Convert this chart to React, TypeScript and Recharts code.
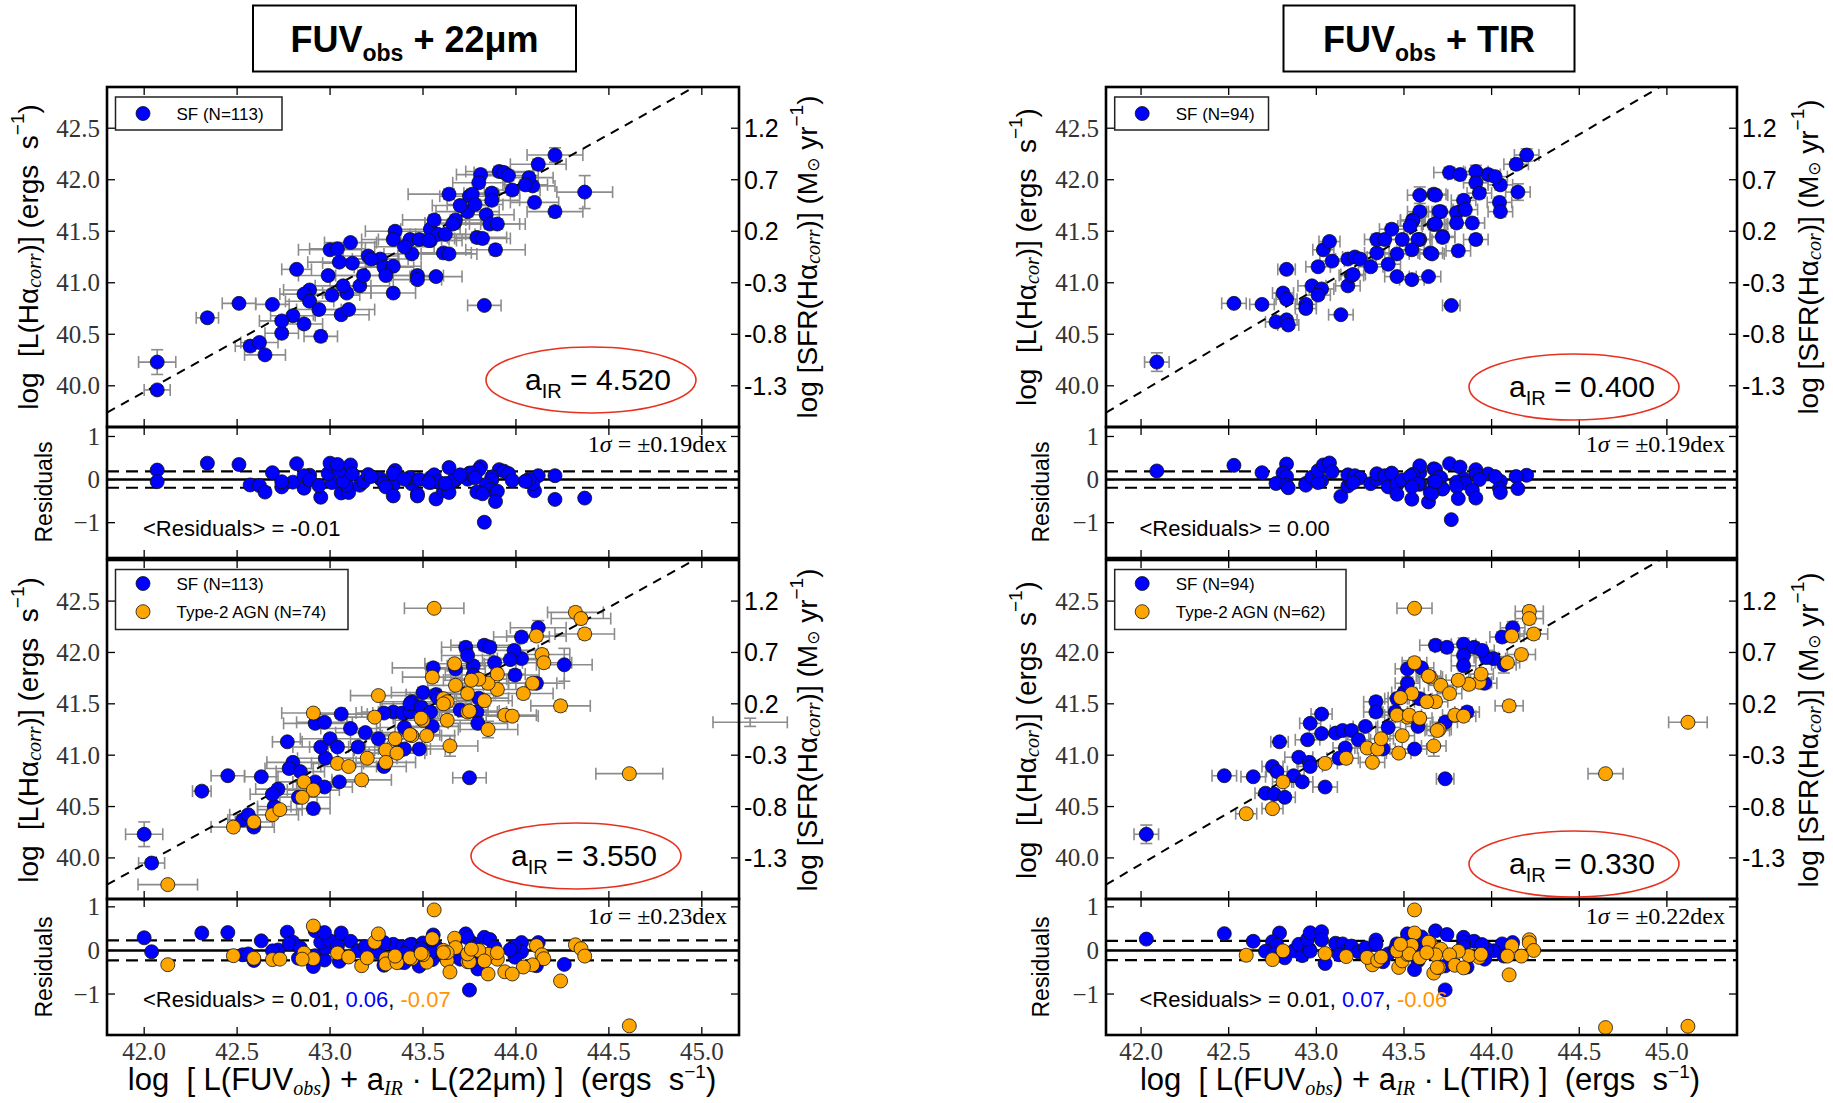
import React from 'react';
import { ScatterChart, Scatter, XAxis, YAxis, ErrorBar, ReferenceLine } from 'recharts';

type P = [number, number, number, number];

// fit line y = x + FIT_OFFSET ; SFR = log L - SFR_OFFSET
const FIT_OFFSET = -2.06;
const SFR_OFFSET = 41.3;
const X_TICKS = [42.0, 42.5, 43.0, 43.5, 44.0, 44.5, 45.0];
const Y_TICKS = [40.0, 40.5, 41.0, 41.5, 42.0, 42.5];
const RES_TICKS = [-1, 0, 1];
const SIGMAS = { tl: 0.19, tr: 0.19, bl: 0.23, br: 0.22 };

// FUV + 22um, a_IR = 4.520 : SF galaxies [x, y, xErr, yErr]
const SF_22_TOP: P[] = [
  [42.07, 40.23, 0.10, 0.12], [42.07, 39.96, 0.07, 0.04], [42.34, 40.66, 0.06, 0.04], [42.51, 40.80, 0.09, 0.03],
  [42.69, 40.79, 0.09, 0.03], [42.82, 41.13, 0.08, 0.03], [42.57, 40.385, 0.08, 0.05], [42.62, 40.42, 0.10, 0.04],
  [42.65, 40.30, 0.11, 0.04], [42.74, 40.51, 0.09, 0.04], [42.95, 40.48, 0.09, 0.05], [42.86, 40.60, 0.10, 0.04],
  [42.80, 40.68, 0.12, 0.04], [42.74, 40.63, 0.12, 0.04], [42.89, 40.93, 0.14, 0.04], [42.86, 40.89, 0.13, 0.04],
  [42.89, 40.82, 0.13, 0.04], [42.94, 40.74, 0.12, 0.04], [43.06, 40.69, 0.15, 0.04], [43.10, 40.74, 0.14, 0.04],
  [43.01, 40.88, 0.15, 0.04], [43.09, 40.90, 0.13, 0.04], [42.99, 41.07, 0.16, 0.04], [43.07, 40.97, 0.15, 0.04],
  [43.16, 40.97, 0.16, 0.04], [43.05, 41.20, 0.17, 0.04], [43.00, 41.32, 0.17, 0.04], [43.04, 41.33, 0.15, 0.04],
  [43.11, 41.39, 0.14, 0.04], [43.12, 41.19, 0.16, 0.04], [43.18, 41.07, 0.15, 0.04], [43.205, 41.26, 0.16, 0.04],
  [43.27, 41.23, 0.15, 0.04], [43.29, 41.15, 0.16, 0.04], [43.34, 41.16, 0.15, 0.04], [43.30, 41.07, 0.14, 0.04],
  [43.34, 40.90, 0.12, 0.04], [43.35, 41.50, 0.16, 0.04], [43.34, 41.42, 0.17, 0.04], [43.44, 41.28, 0.15, 0.04],
  [43.47, 41.07, 0.14, 0.04], [43.47, 41.03, 0.13, 0.04], [43.57, 41.06, 0.14, 0.04], [43.43, 41.42, 0.17, 0.04],
  [43.48, 41.42, 0.16, 0.04], [43.54, 41.41, 0.17, 0.04], [43.54, 41.52, 0.16, 0.05], [43.56, 41.61, 0.17, 0.05],
  [43.61, 41.29, 0.15, 0.04], [43.64, 41.28, 0.15, 0.04], [43.64, 41.86, 0.22, 0.05], [43.67, 41.58, 0.16, 0.05],
  [43.74, 41.69, 0.17, 0.05], [43.75, 41.84, 0.16, 0.05], [44.21, 42.24, 0.15, 0.07], [44.12, 42.15, 0.15, 0.05],
  [44.37, 41.88, 0.15, 0.16], [44.10, 41.78, 0.13, 0.05], [44.21, 41.69, 0.15, 0.05], [44.09, 41.94, 0.12, 0.05],
  [44.07, 42.02, 0.13, 0.05], [44.05, 41.95, 0.12, 0.05], [43.91, 42.08, 0.18, 0.05], [43.935, 42.07, 0.16, 0.05],
  [43.96, 42.04, 0.16, 0.05], [43.81, 42.05, 0.13, 0.05], [43.80, 41.97, 0.14, 0.05], [43.765, 41.86, 0.14, 0.05],
  [43.87, 41.87, 0.15, 0.05], [43.87, 41.80, 0.15, 0.05], [43.98, 41.90, 0.15, 0.05], [43.78, 41.76, 0.15, 0.05],
  [43.84, 41.66, 0.15, 0.05], [43.86, 41.57, 0.16, 0.05], [43.90, 41.57, 0.15, 0.05], [43.675, 41.61, 0.14, 0.05],
  [43.66, 41.57, 0.15, 0.05], [43.58, 41.47, 0.15, 0.05], [43.53, 41.41, 0.15, 0.05], [43.79, 41.44, 0.16, 0.05],
  [43.82, 41.43, 0.15, 0.05], [43.89, 41.32, 0.16, 0.05], [43.83, 40.78, 0.09, 0.03], [43.22, 41.23, 0.15, 0.04],
  [43.40, 41.35, 0.16, 0.04], [43.62, 41.47, 0.16, 0.05], [43.70, 41.75, 0.15, 0.05],
];

// FUV + TIR, a_IR = 0.400 : SF galaxies
const SF_TIR_TOP: P[] = [
  [42.09, 40.23, 0.07, 0.09], [42.53, 40.80, 0.07, 0.03], [42.69, 40.79, 0.07, 0.03], [42.83, 41.13, 0.05, 0.04],
  [42.81, 40.90, 0.06, 0.04], [42.83, 40.84, 0.06, 0.04], [42.77, 40.62, 0.06, 0.04], [42.83, 40.64, 0.06, 0.04],
  [42.84, 40.59, 0.06, 0.04], [42.94, 40.79, 0.06, 0.04], [42.94, 40.75, 0.06, 0.04], [42.975, 40.97, 0.08, 0.04],
  [43.03, 40.94, 0.07, 0.04], [43.01, 40.88, 0.07, 0.04], [43.01, 41.155, 0.07, 0.04], [43.04, 41.32, 0.06, 0.04],
  [43.075, 41.40, 0.06, 0.04], [43.09, 41.21, 0.07, 0.04], [43.14, 40.69, 0.07, 0.03], [43.18, 40.97, 0.07, 0.04],
  [43.20, 41.07, 0.07, 0.04], [43.18, 41.23, 0.07, 0.04], [43.22, 41.25, 0.07, 0.04], [43.25, 41.23, 0.07, 0.04],
  [43.31, 41.155, 0.07, 0.04], [43.345, 41.29, 0.07, 0.04], [43.345, 41.42, 0.07, 0.05], [43.39, 41.42, 0.07, 0.05],
  [43.43, 41.52, 0.07, 0.05], [43.41, 41.18, 0.07, 0.04], [43.46, 41.28, 0.07, 0.04], [43.46, 41.06, 0.07, 0.04],
  [43.49, 41.42, 0.07, 0.05], [43.545, 41.03, 0.07, 0.04], [43.55, 41.61, 0.07, 0.05], [43.59, 41.69, 0.07, 0.05],
  [43.59, 41.85, 0.07, 0.08], [43.67, 41.86, 0.07, 0.05], [43.64, 41.06, 0.07, 0.04], [43.59, 41.42, 0.07, 0.05],
  [43.65, 41.29, 0.07, 0.04], [43.67, 41.565, 0.07, 0.05], [43.71, 41.69, 0.07, 0.05], [43.72, 41.45, 0.07, 0.05],
  [43.77, 40.78, 0.05, 0.03], [44.20, 42.24, 0.07, 0.06], [44.14, 42.15, 0.07, 0.05], [44.15, 41.88, 0.07, 0.08],
  [44.05, 41.95, 0.07, 0.05], [44.045, 41.78, 0.07, 0.05], [44.05, 41.69, 0.07, 0.05], [43.98, 42.05, 0.07, 0.05],
  [44.02, 42.03, 0.07, 0.05], [43.91, 42.08, 0.07, 0.06], [43.91, 41.97, 0.07, 0.05], [43.93, 41.87, 0.07, 0.05],
  [43.76, 42.07, 0.09, 0.05], [43.82, 42.05, 0.07, 0.05], [43.68, 41.85, 0.07, 0.05], [43.70, 41.69, 0.07, 0.05],
  [43.84, 41.80, 0.07, 0.05], [43.80, 41.68, 0.07, 0.05], [43.85, 41.71, 0.07, 0.05], [43.89, 41.58, 0.07, 0.05],
  [43.80, 41.58, 0.07, 0.05], [43.91, 41.42, 0.07, 0.05], [43.81, 41.31, 0.07, 0.05], [43.72, 41.44, 0.07, 0.05],
  [43.66, 41.28, 0.07, 0.04], [43.68, 41.57, 0.07, 0.05], [43.55, 41.60, 0.07, 0.05], [43.535, 41.55, 0.07, 0.05],
  [43.58, 41.42, 0.07, 0.05], [43.545, 41.32, 0.07, 0.05], [43.21, 41.08, 0.07, 0.04],
];

// FUV + 22um, a_IR = 3.550 : SF galaxies
const SF_22_BOT: P[] = [
  [42.00, 40.23, 0.10, 0.12], [42.04, 39.95, 0.07, 0.04], [42.31, 40.65, 0.05, 0.04], [42.45, 40.80, 0.09, 0.03],
  [42.63, 40.79, 0.09, 0.03], [42.77, 41.13, 0.08, 0.03], [42.53, 40.37, 0.08, 0.05], [42.56, 40.42, 0.10, 0.04],
  [42.59, 40.30, 0.11, 0.04], [42.70, 40.50, 0.09, 0.04], [42.91, 40.48, 0.09, 0.05], [42.83, 40.59, 0.10, 0.04],
  [42.72, 40.67, 0.12, 0.04], [42.69, 40.62, 0.12, 0.04], [42.80, 40.93, 0.14, 0.04], [42.78, 40.87, 0.13, 0.04],
  [42.84, 40.84, 0.13, 0.04], [42.92, 40.74, 0.12, 0.04], [42.97, 40.69, 0.15, 0.04], [43.05, 40.74, 0.14, 0.04],
  [42.975, 40.97, 0.15, 0.04], [42.95, 41.08, 0.15, 0.04], [43.00, 41.16, 0.16, 0.04], [42.92, 41.31, 0.17, 0.04],
  [42.97, 41.32, 0.15, 0.04], [43.06, 41.40, 0.14, 0.04], [43.11, 41.26, 0.16, 0.04], [43.04, 41.08, 0.15, 0.04],
  [43.15, 41.08, 0.16, 0.04], [43.19, 41.22, 0.16, 0.04], [43.26, 41.16, 0.15, 0.04], [43.29, 40.89, 0.12, 0.04],
  [43.38, 41.05, 0.14, 0.04], [43.34, 41.42, 0.17, 0.04], [43.39, 41.41, 0.16, 0.04], [43.43, 41.42, 0.17, 0.04],
  [43.44, 41.52, 0.16, 0.05], [43.50, 41.61, 0.17, 0.05], [43.48, 41.06, 0.14, 0.04], [43.55, 41.28, 0.15, 0.04],
  [43.555, 41.85, 0.22, 0.05], [43.675, 41.84, 0.16, 0.05], [43.57, 41.59, 0.16, 0.05], [43.75, 40.78, 0.09, 0.03],
  [43.29, 41.41, 0.15, 0.04], [44.12, 42.24, 0.15, 0.07], [44.03, 42.15, 0.15, 0.05], [44.26, 41.88, 0.15, 0.16],
  [44.03, 41.94, 0.13, 0.05], [43.995, 41.78, 0.13, 0.05], [43.99, 42.02, 0.13, 0.05], [44.11, 41.70, 0.15, 0.05],
  [43.83, 42.07, 0.18, 0.05], [43.86, 42.05, 0.16, 0.05], [43.73, 42.05, 0.13, 0.05], [43.77, 41.87, 0.14, 0.05],
  [43.885, 41.90, 0.15, 0.05], [43.97, 41.93, 0.15, 0.05], [43.74, 41.97, 0.14, 0.05], [43.77, 41.78, 0.15, 0.05],
  [43.58, 41.56, 0.15, 0.05], [43.43, 41.50, 0.16, 0.05], [43.49, 41.47, 0.15, 0.05], [43.54, 41.42, 0.15, 0.05],
  [43.80, 41.555, 0.16, 0.05], [43.79, 41.42, 0.16, 0.05], [43.40, 41.27, 0.15, 0.04], [43.70, 41.44, 0.15, 0.05],
  [43.795, 41.31, 0.16, 0.05], [43.40, 41.06, 0.14, 0.04],
];

// FUV + 22um, a_IR = 3.550 : Type-2 AGN
const AGN_22_BOT: P[] = [
  [42.127, 39.74, 0.16, 0.03], [42.48, 40.30, 0.12, 0.04], [42.59, 40.35, 0.10, 0.04], [42.69, 40.42, 0.14, 0.04],
  [42.73, 40.47, 0.12, 0.04], [42.91, 41.41, 0.17, 0.04], [42.86, 40.74, 0.15, 0.04], [42.91, 40.66, 0.14, 0.04],
  [42.85, 40.59, 0.15, 0.04], [43.04, 40.92, 0.14, 0.04], [43.10, 40.89, 0.15, 0.04], [43.17, 40.76, 0.16, 0.04],
  [43.20, 40.97, 0.16, 0.04], [43.30, 41.05, 0.17, 0.04], [43.30, 40.93, 0.16, 0.04], [43.36, 41.02, 0.15, 0.04],
  [43.35, 41.16, 0.16, 0.04], [43.24, 41.37, 0.15, 0.04], [43.26, 41.58, 0.15, 0.04], [43.44, 41.19, 0.16, 0.04],
  [43.52, 41.19, 0.15, 0.04], [43.50, 41.34, 0.15, 0.04], [43.63, 41.34, 0.16, 0.05], [43.645, 41.09, 0.15, 0.10],
  [43.55, 41.76, 0.16, 0.05], [43.67, 41.89, 0.16, 0.05], [43.675, 41.68, 0.15, 0.05], [43.74, 41.42, 0.16, 0.05],
  [43.61, 41.55, 0.15, 0.05], [43.56, 42.43, 0.16, 0.03], [44.32, 42.39, 0.15, 0.05], [44.35, 42.33, 0.16, 0.05],
  [44.37, 42.18, 0.16, 0.05], [44.11, 42.16, 0.16, 0.05], [44.14, 41.98, 0.15, 0.05], [44.15, 41.90, 0.15, 0.05],
  [44.09, 41.70, 0.13, 0.05], [44.04, 41.60, 0.16, 0.05], [44.24, 41.48, 0.16, 0.05], [43.94, 41.39, 0.17, 0.05],
  [43.98, 41.38, 0.14, 0.05], [43.85, 41.25, 0.16, 0.08], [43.75, 41.43, 0.16, 0.05], [43.90, 41.64, 0.15, 0.05],
  [43.85, 41.70, 0.15, 0.05], [43.90, 41.79, 0.15, 0.05], [43.80, 41.74, 0.15, 0.05], [43.74, 41.60, 0.15, 0.05],
  [43.83, 41.53, 0.15, 0.05], [44.61, 40.82, 0.18, 0.03], [43.43, 41.20, 0.16, 0.04], [43.63, 41.52, 0.15, 0.05],
  [43.49, 41.36, 0.15, 0.05], [43.61, 41.50, 0.15, 0.05], [43.76, 41.73, 0.15, 0.05], [45.26, 41.32, 0.20, 0.04],
];

// FUV + TIR, a_IR = 0.330 : SF galaxies
const SF_TIR_BOT: P[] = [
  [42.03, 40.23, 0.07, 0.09], [42.475, 40.80, 0.07, 0.03], [42.64, 40.79, 0.07, 0.03], [42.79, 41.13, 0.05, 0.04],
  [42.75, 40.89, 0.06, 0.04], [42.775, 40.84, 0.06, 0.04], [42.71, 40.63, 0.06, 0.04], [42.76, 40.62, 0.06, 0.04],
  [42.82, 40.59, 0.06, 0.04], [42.87, 40.80, 0.06, 0.04], [42.92, 40.74, 0.06, 0.04], [42.90, 40.98, 0.08, 0.04],
  [42.96, 40.93, 0.07, 0.04], [42.965, 40.89, 0.07, 0.04], [42.95, 41.15, 0.07, 0.04], [42.965, 41.31, 0.06, 0.04],
  [43.03, 41.40, 0.06, 0.04], [43.03, 41.21, 0.07, 0.04], [43.05, 40.69, 0.07, 0.03], [43.11, 41.215, 0.07, 0.04],
  [43.15, 41.24, 0.07, 0.04], [43.165, 41.07, 0.07, 0.04], [43.13, 40.97, 0.07, 0.04], [43.20, 41.24, 0.07, 0.04],
  [43.24, 41.15, 0.07, 0.04], [43.28, 41.28, 0.07, 0.04], [43.34, 41.52, 0.07, 0.05], [43.34, 41.42, 0.07, 0.05],
  [43.38, 41.06, 0.07, 0.04], [43.41, 41.27, 0.07, 0.04], [43.46, 41.55, 0.07, 0.05], [43.50, 41.61, 0.07, 0.05],
  [43.45, 41.42, 0.07, 0.05], [43.52, 41.84, 0.07, 0.08], [43.60, 41.85, 0.07, 0.05], [43.58, 41.28, 0.07, 0.04],
  [43.56, 41.06, 0.07, 0.04], [43.735, 40.77, 0.05, 0.03], [43.735, 41.32, 0.07, 0.05], [44.12, 42.24, 0.07, 0.06],
  [44.06, 42.15, 0.07, 0.05], [44.07, 41.88, 0.07, 0.08], [44.01, 41.94, 0.07, 0.05], [43.97, 41.95, 0.07, 0.05],
  [43.96, 41.70, 0.07, 0.05], [43.68, 42.07, 0.09, 0.05], [43.745, 42.05, 0.07, 0.05], [43.84, 42.08, 0.07, 0.06],
  [43.90, 42.05, 0.07, 0.05], [43.945, 42.02, 0.07, 0.05], [43.84, 41.97, 0.07, 0.05], [43.84, 41.87, 0.07, 0.05],
  [43.52, 41.70, 0.07, 0.05], [43.59, 41.55, 0.07, 0.05], [43.86, 41.42, 0.07, 0.05],
];

// FUV + TIR, a_IR = 0.330 : Type-2 AGN
const AGN_TIR_BOT: P[] = [
  [42.60, 40.43, 0.06, 0.04], [42.75, 40.48, 0.06, 0.04], [42.81, 40.74, 0.06, 0.04], [43.05, 40.92, 0.07, 0.04],
  [43.17, 40.97, 0.07, 0.04], [43.32, 40.93, 0.07, 0.04], [43.47, 41.02, 0.07, 0.04], [43.29, 41.07, 0.07, 0.04],
  [43.35, 41.06, 0.07, 0.04], [43.49, 41.19, 0.07, 0.04], [43.67, 41.09, 0.07, 0.10], [43.70, 41.25, 0.07, 0.04],
  [43.56, 41.90, 0.07, 0.05], [43.65, 41.76, 0.07, 0.05], [43.71, 41.68, 0.07, 0.05], [43.68, 41.52, 0.07, 0.05],
  [43.52, 41.37, 0.07, 0.05], [43.545, 41.60, 0.07, 0.05], [43.46, 41.39, 0.07, 0.05], [43.37, 41.16, 0.07, 0.04],
  [43.56, 42.43, 0.10, 0.03], [44.215, 42.40, 0.08, 0.05], [44.215, 42.33, 0.08, 0.05], [44.24, 42.18, 0.08, 0.05],
  [44.115, 42.16, 0.07, 0.05], [44.17, 41.98, 0.08, 0.05], [44.09, 41.90, 0.07, 0.05], [44.10, 41.48, 0.08, 0.05],
  [45.12, 41.32, 0.11, 0.03], [44.65, 40.82, 0.10, 0.03], [43.93, 41.71, 0.07, 0.05], [43.87, 41.69, 0.07, 0.05],
  [43.94, 41.79, 0.07, 0.05], [43.81, 41.73, 0.07, 0.05], [43.76, 41.60, 0.07, 0.05], [43.64, 41.77, 0.07, 0.05],
  [43.79, 41.39, 0.07, 0.05], [43.84, 41.38, 0.07, 0.05], [43.69, 41.24, 0.07, 0.05], [43.53, 41.39, 0.07, 0.05],
  [43.59, 41.36, 0.07, 0.05], [43.63, 41.52, 0.07, 0.05], [43.48, 41.56, 0.07, 0.05],
];

const BLUE = '#0000ff';
const ORANGE = '#ffa500';
const SANS = '"Liberation Sans", Arial, sans-serif';
const SERIF = '"Liberation Serif", "DejaVu Serif", serif';
const PRE: React.CSSProperties = { whiteSpace: 'pre' };

const toPts = (a: P[]) => a.map(([x, y, ex, ey]) => ({ x, y, ex, ey }));
const toRes = (a: P[]) => a.map(([x, y]) => ({ x, y: y - (x + FIT_OFFSET) }));

type Series = { data: any[]; color: string; errors: boolean };

const PADL = 110, PADR = 110, PADT = 14, PADB = 44, TL = 8;

function Panel(props: {
  left: number; top: number; width: number; height: number;
  xDomain: [number, number]; yDomain: [number, number];
  yTicks: number[]; yFmt: (v: number) => string; rFmt?: (v: number) => string;
  xLabels: boolean; series: Series[]; sigma?: number; diag?: boolean;
}) {
  const { left, top, width, height, xDomain, yDomain, yTicks, yFmt, rFmt, xLabels, series, sigma, diag } = props;
  const yTick = (p: any) => {
    const { x, y, payload } = p;
    const v = payload.value as number;
    return (
      <g>
        <line x1={x} x2={x + TL} y1={y} y2={y} stroke="#000" strokeWidth={1.3} />
        <line x1={x + width} x2={x + width - TL} y1={y} y2={y} stroke="#000" strokeWidth={1.3} />
        <text x={x - 7} y={y} textAnchor="end" dominantBaseline="central" fontFamily={SERIF} fontSize={25} fill="#333">{yFmt(v)}</text>
        {rFmt ? (
          <text x={x + width + 5} y={y} textAnchor="start" dominantBaseline="central" fontFamily={SANS} fontSize={25} fill="#000">{rFmt(v)}</text>
        ) : null}
      </g>
    );
  };
  const xTick = (p: any) => {
    const { x, y, payload } = p;
    const v = payload.value as number;
    return (
      <g>
        <line x1={x} x2={x} y1={y} y2={y - TL} stroke="#000" strokeWidth={1.3} />
        <line x1={x} x2={x} y1={y - height} y2={y - height + TL} stroke="#000" strokeWidth={1.3} />
        {xLabels ? (
          <text x={x} y={y + 25} textAnchor="middle" fontFamily={SERIF} fontSize={25} fill="#333">{v.toFixed(1)}</text>
        ) : null}
      </g>
    );
  };
  const shape = (color: string) => (p: any) => (
    <circle cx={p.cx} cy={p.cy} r={7} fill={color} stroke="#111" strokeWidth={0.8} />
  );
  return (
    <div style={{ position: 'absolute', left: left - PADL, top: top - PADT }}>
      <ScatterChart width={width + PADL + PADR} height={height + PADT + PADB} margin={{ top: PADT, right: PADR, bottom: 0, left: 0 }}>
        <XAxis type="number" dataKey="x" domain={xDomain} allowDataOverflow ticks={X_TICKS} interval={0}
          tick={xTick} tickLine={false} axisLine={false} tickSize={0} tickMargin={0} height={PADB} />
        <YAxis type="number" dataKey="y" domain={yDomain} allowDataOverflow ticks={yTicks} interval={0}
          tick={yTick} tickLine={false} axisLine={false} tickSize={0} tickMargin={0} width={PADL} />
        {series.map((s, i) => (
          <Scatter key={i} data={s.data} isAnimationActive={false} shape={shape(s.color)}>
            {s.errors ? <ErrorBar dataKey="ex" direction="x" width={6} strokeWidth={1.6} stroke="#8c8c8c" /> : null}
            {s.errors ? <ErrorBar dataKey="ey" direction="y" width={6} strokeWidth={1.6} stroke="#8c8c8c" /> : null}
          </Scatter>
        ))}
        {sigma !== undefined ? <ReferenceLine y={0} stroke="#000" strokeWidth={2.5} /> : null}
        {sigma !== undefined ? <ReferenceLine y={sigma} stroke="#000" strokeWidth={2.2} strokeDasharray="12 7" /> : null}
        {sigma !== undefined ? <ReferenceLine y={-sigma} stroke="#000" strokeWidth={2.2} strokeDasharray="12 7" /> : null}
        {diag ? (
          <ReferenceLine ifOverflow="hidden" stroke="#000" strokeWidth={2} strokeDasharray="9 7"
            segment={[{ x: xDomain[0], y: xDomain[0] + FIT_OFFSET }, { x: yDomain[1] - FIT_OFFSET, y: yDomain[1] }]} />
        ) : null}
      </ScatterChart>
    </div>
  );
}

const mainFmt = (v: number) => v.toFixed(1);
const sfrFmt = (v: number) => (v - SFR_OFFSET).toFixed(1);
const resFmt = (v: number) => (v < 0 ? '\u2212' + Math.abs(v) : String(v));

const ROWS = {
  mainTop: { top: 87, h: 340 },
  resTop: { top: 427, h: 131 },
  mainBot: { top: 560, h: 339 },
  resBot: { top: 899, h: 136 },
};
const MAIN_Y: [number, number] = [39.6, 42.9];
const RES_Y_TOP: [number, number] = [-1.82, 1.22];
const RES_Y_BOT: [number, number] = [-1.94, 1.18];

function Column(props: {
  left: number; width: number; xMax: number;
  sfTop: P[]; sfBot: P[]; agnBot: P[]; sigTop: number; sigBot: number;
}) {
  const { left, width, xMax, sfTop, sfBot, agnBot, sigTop, sigBot } = props;
  const xd: [number, number] = [41.8, xMax];
  return (
    <>
      <Panel left={left} top={ROWS.mainTop.top} width={width} height={ROWS.mainTop.h} xDomain={xd} yDomain={MAIN_Y}
        yTicks={Y_TICKS} yFmt={mainFmt} rFmt={sfrFmt} xLabels={false} diag
        series={[{ data: toPts(sfTop), color: BLUE, errors: true }]} />
      <Panel left={left} top={ROWS.resTop.top} width={width} height={ROWS.resTop.h} xDomain={xd} yDomain={RES_Y_TOP}
        yTicks={RES_TICKS} yFmt={resFmt} xLabels={false} sigma={sigTop}
        series={[{ data: toRes(sfTop), color: BLUE, errors: false }]} />
      <Panel left={left} top={ROWS.mainBot.top} width={width} height={ROWS.mainBot.h} xDomain={xd} yDomain={MAIN_Y}
        yTicks={Y_TICKS} yFmt={mainFmt} rFmt={sfrFmt} xLabels={false} diag
        series={[{ data: toPts(sfBot), color: BLUE, errors: true }, { data: toPts(agnBot), color: ORANGE, errors: true }]} />
      <Panel left={left} top={ROWS.resBot.top} width={width} height={ROWS.resBot.h} xDomain={xd} yDomain={RES_Y_BOT}
        yTicks={RES_TICKS} yFmt={resFmt} xLabels sigma={sigBot}
        series={[{ data: toRes(sfBot), color: BLUE, errors: false }, { data: toRes(agnBot), color: ORANGE, errors: false }]} />
    </>
  );
}

const Sub = ({ children, size, dy, italic, family }: any) => (
  <tspan fontSize={size} dy={dy} fontStyle={italic ? 'italic' : 'normal'} fontFamily={family}>{children}</tspan>
);

function YLabel({ x, y, sub }: { x: number; y: number; sub: string }) {
  return (
    <text transform={`translate(${x},${y}) rotate(-90)`} textAnchor="middle" dominantBaseline="central" fontFamily={SANS} fontSize={28} fill="#000" style={PRE}>
      {'log  [L(Hα'}<Sub size={20} dy={6} italic family={SERIF}>{sub}</Sub><tspan dy={-6}>{')] (ergs  s'}</tspan>
      <Sub size={19} dy={-11}>−1</Sub><tspan dy={11}>)</tspan>
    </text>
  );
}
function RLabel({ x, y, sub }: { x: number; y: number; sub: string }) {
  return (
    <text transform={`translate(${x},${y}) rotate(-90)`} textAnchor="middle" dominantBaseline="central" fontFamily={SANS} fontSize={28} fill="#000" style={PRE}>
      {'log [SFR(Hα'}<Sub size={20} dy={6} italic family={SERIF}>{sub}</Sub><tspan dy={-6}>{')] (M'}</tspan>
      <Sub size={17} dy={6} family='"DejaVu Sans", sans-serif'>⊙</Sub><tspan dy={-6}>{' yr'}</tspan>
      <Sub size={19} dy={-11}>−1</Sub><tspan dy={11}>)</tspan>
    </text>
  );
}
function ResLabel({ x, y }: { x: number; y: number }) {
  return (
    <text transform={`translate(${x},${y}) rotate(-90)`} textAnchor="middle" dominantBaseline="central" fontFamily={SANS} fontSize={23} fill="#000">Residuals</text>
  );
}
function XLabel({ x, y, band }: { x: number; y: number; band: string }) {
  return (
    <text x={x} y={y} textAnchor="middle" fontFamily={SANS} fontSize={31} fill="#000" style={PRE}>
      {'log  [ L(FUV'}<Sub size={20} dy={5} italic family={SERIF}>obs</Sub><tspan dy={-5}>{') + a'}</tspan>
      <Sub size={20} dy={5} italic family={SERIF}>IR</Sub><tspan dy={-5}>{' · L(' + band + ') ]  (ergs  s'}</tspan>
      <Sub size={19} dy={-12}>−1</Sub><tspan dy={12}>)</tspan>
    </text>
  );
}
function Title({ x, w, band }: { x: number; w: number; band: string }) {
  return (
    <g>
      <rect x={x} y={5.5} width={w} height={66} fill="#fff" stroke="#000" strokeWidth={2} />
      <text x={x + w / 2} y={52} textAnchor="middle" fontFamily={SANS} fontWeight="bold" fontSize={36} fill="#000" style={PRE}>
        FUV<tspan fontSize={23} dy={9}>obs</tspan><tspan dy={-9}>{' + ' + band}</tspan>
      </text>
    </g>
  );
}
function Legend({ x, y, w, items }: { x: number; y: number; w: number; items: { label: string; color: string }[] }) {
  const h = items.length === 1 ? 33 : 60;
  return (
    <g>
      <rect x={x} y={y} width={w} height={h} fill="#fff" stroke="#222" strokeWidth={1.5} />
      {items.map((it, i) => {
        const cy = y + (items.length === 1 ? 16.5 : 14 + i * 28.2);
        return (
          <g key={i}>
            <circle cx={x + 27.5} cy={cy} r={7} fill={it.color} stroke="#111" strokeWidth={0.8} />
            <text x={x + 61} y={cy + 6} fontFamily={SANS} fontSize={17} fill="#000">{it.label}</text>
          </g>
        );
      })}
    </g>
  );
}
function AirEllipse({ cx, cy, tx, ty, val }: { cx: number; cy: number; tx: number; ty: number; val: string }) {
  return (
    <g>
      <ellipse cx={cx} cy={cy} rx={105} ry={33} fill="none" stroke="#e8301f" strokeWidth={1.6} />
      <text x={tx} y={ty} textAnchor="middle" fontFamily={SANS} fontSize={30} fill="#000" style={PRE}>
        a<tspan fontSize={20} dy={8}>IR</tspan><tspan dy={-8}>{' = ' + val}</tspan>
      </text>
    </g>
  );
}
function SigmaText({ x, y, val }: { x: number; y: number; val: string }) {
  return (
    <text x={x} y={y} textAnchor="end" fontFamily={SERIF} fontSize={24} fill="#000">
      1<tspan fontStyle="italic">σ</tspan> = ±{val}dex
    </text>
  );
}
function MeanText({ x, y, vals }: { x: number; y: number; vals: string[] }) {
  return (
    <text x={x} y={y} fontFamily={SANS} fontSize={22} fill="#000" style={PRE}>
      {'<Residuals> = ' + vals[0]}
      {vals.length > 1 ? (
        <>
          <tspan>{', '}</tspan><tspan fill={BLUE}>{vals[1]}</tspan><tspan>{', '}</tspan><tspan fill="#ff9500">{vals[2]}</tspan>
        </>
      ) : null}
    </text>
  );
}

export default function App() {
  const L = { left: 107, width: 632 };
  const R = { left: 1106, width: 631 };
  const frames = [L, R].flatMap((c) => Object.values(ROWS).map((r) => ({ x: c.left, y: r.top, w: c.width, h: r.h })));
  return (
    <div style={{ position: 'absolute', left: 0, top: 0, width: 1833, height: 1103, background: '#fff', overflow: 'hidden' }}>
      <Column left={L.left} width={L.width} xMax={45.2} sfTop={SF_22_TOP} sfBot={SF_22_BOT} agnBot={AGN_22_BOT} sigTop={SIGMAS.tl} sigBot={SIGMAS.bl} />
      <Column left={R.left} width={R.width} xMax={45.4} sfTop={SF_TIR_TOP} sfBot={SF_TIR_BOT} agnBot={AGN_TIR_BOT} sigTop={SIGMAS.tr} sigBot={SIGMAS.br} />
      <svg width={1833} height={1103} style={{ position: 'absolute', left: 0, top: 0, pointerEvents: 'none' }}>
        {frames.map((f, i) => (
          <rect key={i} x={f.x} y={f.y} width={f.w} height={f.h} fill="none" stroke="#000" strokeWidth={2.6} />
        ))}
        <Title x={253} w={323} band="22μm" />
        <Title x={1283.5} w={291} band="TIR" />

        <Legend x={115.5} y={97} w={166.5} items={[{ label: 'SF (N=113)', color: BLUE }]} />
        <Legend x={115.5} y={569.5} w={232.5} items={[{ label: 'SF (N=113)', color: BLUE }, { label: 'Type-2 AGN (N=74)', color: ORANGE }]} />
        <Legend x={1114.7} y={97} w={153.8} items={[{ label: 'SF (N=94)', color: BLUE }]} />
        <Legend x={1114.7} y={569.5} w={231.3} items={[{ label: 'SF (N=94)', color: BLUE }, { label: 'Type-2 AGN (N=62)', color: ORANGE }]} />

        <AirEllipse cx={591} cy={380} tx={598} ty={390} val="4.520" />
        <AirEllipse cx={576} cy={856} tx={584} ty={866} val="3.550" />
        <AirEllipse cx={1574} cy={387} tx={1582} ty={397} val="0.400" />
        <AirEllipse cx={1574} cy={864} tx={1582} ty={874} val="0.330" />

        <SigmaText x={727} y={452} val="0.19" />
        <SigmaText x={727} y={924} val="0.23" />
        <SigmaText x={1725} y={452} val="0.19" />
        <SigmaText x={1725} y={924} val="0.22" />

        <MeanText x={143} y={536} vals={['-0.01']} />
        <MeanText x={143} y={1007} vals={['0.01', '0.06', '-0.07']} />
        <MeanText x={1139.5} y={536} vals={['0.00']} />
        <MeanText x={1139.5} y={1007} vals={['0.01', '0.07', '-0.06']} />

        <YLabel x={28} y={257} sub="corr" />
        <YLabel x={28} y={730} sub="corr" />
        <YLabel x={1026} y={257} sub="cor" />
        <YLabel x={1026} y={730} sub="cor" />
        <RLabel x={807} y={257} sub="corr" />
        <RLabel x={807} y={730} sub="corr" />
        <RLabel x={1808} y={257} sub="cor" />
        <RLabel x={1808} y={730} sub="cor" />
        <ResLabel x={43.5} y={492} />
        <ResLabel x={43.5} y={967} />
        <ResLabel x={1041} y={492} />
        <ResLabel x={1041} y={967} />

        <XLabel x={422} y={1090} band="22μm" />
        <XLabel x={1420} y={1090} band="TIR" />
      </svg>
    </div>
  );
}
